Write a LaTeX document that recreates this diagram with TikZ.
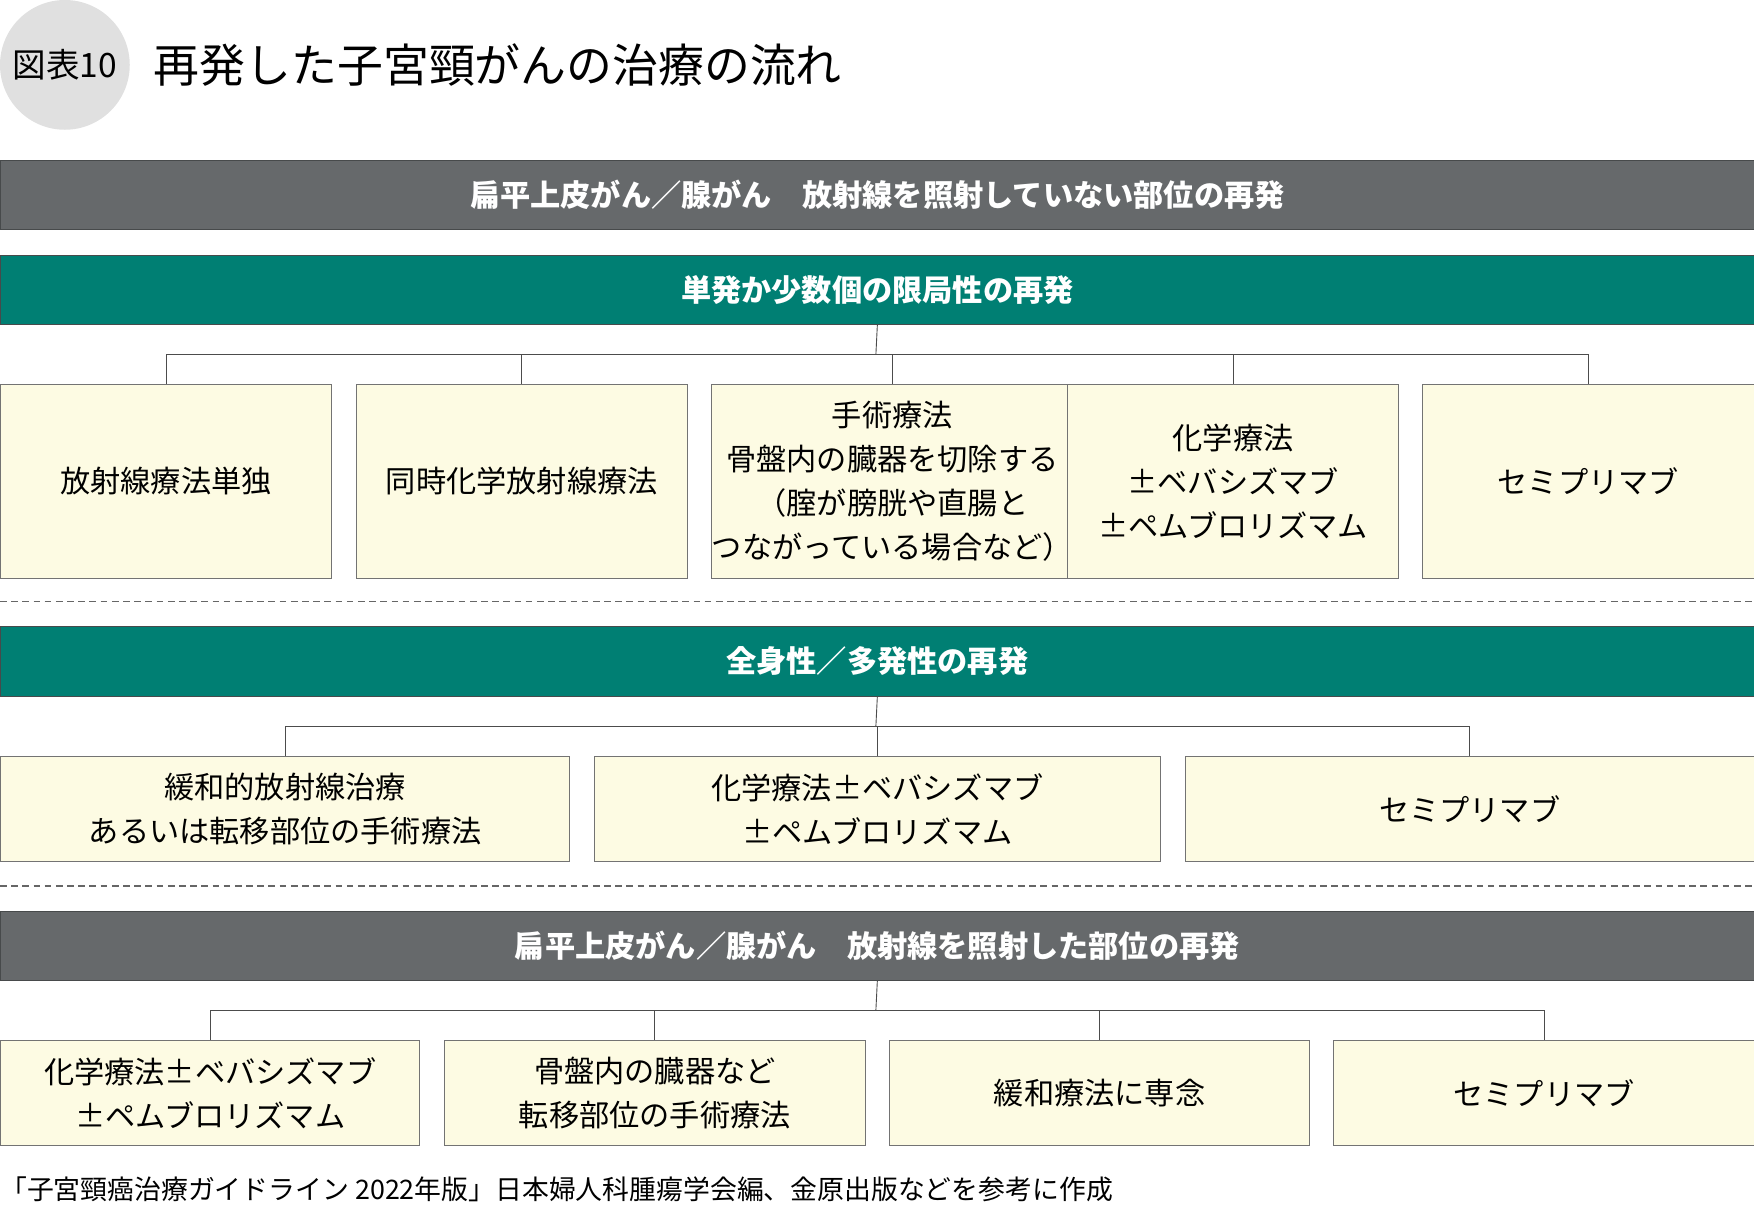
\documentclass[tikz,border=0pt]{standalone}
\usepackage{fontspec}
\setmainfont{Noto Sans CJK JP}
\definecolor{grayb}{HTML}{66696B}
\definecolor{teal}{HTML}{007F73}
\definecolor{cream}{HTML}{FDFBE3}
\definecolor{circ}{HTML}{E0E0E0}
\begin{document}
\begin{tikzpicture}[x=1pt,y=-1pt,
 bar/.style={minimum width=1568pt,minimum height=62pt,anchor=north west,inner sep=0pt,text=white,font=\fontsize{27}{30}\selectfont\bfseries,draw=grayb!70!black,line width=0.6pt},
 gbar/.style={bar,fill=grayb},
 tbar/.style={bar,fill=teal},
 box/.style={fill=cream,draw=black!55,line width=0.8pt,anchor=north west,inner sep=0pt,align=center,font=\fontsize{27}{39.5}\selectfont},
 conn/.style={draw=black!70,line width=0.8pt},
 sepline/.style={draw=black!60,dash pattern=on 6pt off 4pt,line width=1pt}]
\useasboundingbox (0,0) rectangle (1568,1083);
\fill[circ] (58,58) circle (58);
\node[font=\fontsize{30}{32}\selectfont] (lab) at (58,58) {図表10};
\node[anchor=west,font=\fontsize{41}{44}\selectfont] (title) at (134,58) {再発した子宮頸がんの治療の流れ};
% section 1
\node[gbar] (g1) at (0,143) {扁平上皮がん／腺がん　放射線を照射していない部位の再発};
\node[tbar] (t1) at (0,228) {単発か少数個の限局性の再発};
\node[box,minimum width=296pt,minimum height=174pt] (a1) at (0,343) {放射線療法単独};
\node[box,minimum width=296pt,minimum height=174pt] (a2) at (318,343) {同時化学放射線療法};
\node[box,minimum width=296pt,minimum height=174pt] (a3) at (636,343) {手術療法\\骨盤内の臓器を切除する\\（腟が膀胱や直腸と\\つながっている場合など）};
\node[box,minimum width=296pt,minimum height=174pt] (a4) at (954,343) {化学療法\\±ベバシズマブ\\±ペムブロリズマム};
\node[box,minimum width=297pt,minimum height=174pt] (a5) at (1271,343) {セミプリマブ};
\coordinate (j1) at (783,317);
\draw[conn] (t1.south) -- (j1);
\foreach \n in {a1,a2,a3,a4,a5} \draw[conn] (j1) -| (\n.north);
\draw[sepline] (0,538) -- (1568,538);
% section 2
\node[tbar] (t2) at (0,560) {全身性／多発性の再発};
\node[box,minimum width=509pt,minimum height=94pt] (b1) at (0,676) {緩和的放射線治療\\あるいは転移部位の手術療法};
\node[box,minimum width=506pt,minimum height=94pt] (b2) at (531,676) {化学療法±ベバシズマブ\\±ペムブロリズマム};
\node[box,minimum width=509pt,minimum height=94pt] (b3) at (1059,676) {セミプリマブ};
\coordinate (j2) at (783,649);
\draw[conn] (t2.south) -- (j2);
\foreach \n in {b1,b2,b3} \draw[conn] (j2) -| (\n.north);
\draw[sepline] (0,792) -- (1568,792);
% section 3
\node[gbar] (g3) at (0,814) {扁平上皮がん／腺がん　放射線を照射した部位の再発};
\node[box,minimum width=375pt,minimum height=94pt] (c1) at (0,930) {化学療法±ベバシズマブ\\±ペムブロリズマム};
\node[box,minimum width=376pt,minimum height=94pt] (c2) at (397,930) {骨盤内の臓器など\\転移部位の手術療法};
\node[box,minimum width=375pt,minimum height=94pt] (c3) at (795,930) {緩和療法に専念};
\node[box,minimum width=376pt,minimum height=94pt] (c4) at (1192,930) {セミプリマブ};
\coordinate (j3) at (783,903);
\draw[conn] (g3.south) -- (j3);
\foreach \n in {c1,c2,c3,c4} \draw[conn] (j3) -| (\n.north);
\node[anchor=west,inner sep=0pt,font=\fontsize{24}{26}\selectfont] (foot) at (0,1063) {「子宮頸癌治療ガイドライン 2022年版」日本婦人科腫瘍学会編、金原出版などを参考に作成};
\end{tikzpicture}
\end{document}
